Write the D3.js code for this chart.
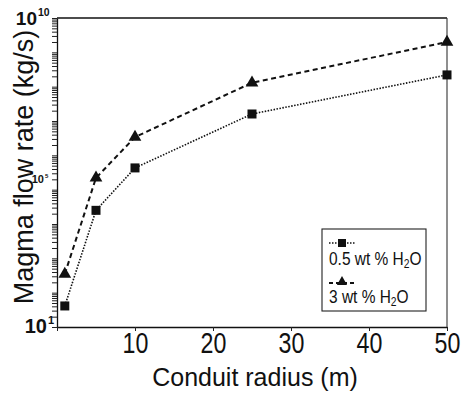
<!DOCTYPE html>
<html><head><meta charset="utf-8">
<script src="https://cdn.jsdelivr.net/npm/d3@7"></script>
<style>
html,body{margin:0;padding:0;background:#fff;}
svg{display:block;}
</style></head>
<body>
<svg id="chart" width="461" height="394"></svg>
<script>
const radius = [1, 5, 10, 25, 50];
const flowLow = [41, 2.5e4, 4.3e5, 1.6e7, 2.2e8];     // 0.5 wt % H2O
const flowHigh = [350, 2.2e5, 3.4e6, 1.3e8, 2.0e9];   // 3 wt % H2O
const xTicks = [0, 10, 20, 30, 40, 50];
const yLabelExp = [1, 5, 10];
const seriesNames = ["0.5 wt % H", "3 wt % H"];

const svg = d3.select("#chart");
const L = 57, R = 447, T = 18, B = 327;
const x = d3.scaleLinear().domain([0, 50]).range([L, R]);
const y = d3.scaleLog().domain([10, 1e10]).range([B, T]);
const sans = "'Liberation Sans', Arial, Helvetica, sans-serif";

// minor/major y ticks
const yTickVals = [];
for (let e = 1; e < 10; e++) for (let m = 1; m < 10; m++) yTickVals.push(m * Math.pow(10, e));
yTickVals.push(1e10);

const yAxis = svg.append("g").attr("transform", `translate(${L},0)`)
  .call(d3.axisLeft(y).tickValues(yTickVals).tickFormat("").tickSize(5).tickSizeOuter(0));
yAxis.selectAll("line").attr("stroke", "#222").attr("stroke-width", 1);
yAxis.select(".domain").attr("stroke", "#111").attr("stroke-width", 1.3);

const xAxis = svg.append("g").attr("transform", `translate(0,${B})`)
  .call(d3.axisBottom(x).tickValues(xTicks).tickFormat(d => d === 0 ? "" : d).tickSize(4).tickSizeOuter(0).tickPadding(1));
xAxis.select(".domain").attr("stroke", "#111").attr("stroke-width", 1.3);
xAxis.selectAll("line").attr("stroke", "#222");
xAxis.selectAll("text").attr("font-family", sans).attr("font-size", 29).attr("fill", "#111")
  .attr("dy", "0.71em").attr("transform", "scale(0.8,1)");

// top & right frame
svg.append("line").attr("x1", L).attr("x2", R).attr("y1", T).attr("y2", T).attr("stroke", "#111").attr("stroke-width", 1.3);
svg.append("line").attr("x1", R).attr("x2", R).attr("y1", T).attr("y2", B).attr("stroke", "#333").attr("stroke-width", 1.1);

// y tick labels with superscripts
const labSize = {1: 20, 5: 11, 10: 19};
const labRight = {1: 47, 5: 44, 10: 37};
const labBase = {1: 333, 5: 183, 10: 25};
yLabelExp.forEach(e => {
  svg.append("text").attr("font-family", sans).attr("font-weight", "bold")
    .attr("fill", "#111").attr("text-anchor", "end")
    .attr("x", labRight[e]).attr("y", labBase[e]).attr("font-size", labSize[e]).text("10");
  svg.append("text").attr("font-family", sans).attr("font-weight", "bold").attr("fill", "#111")
    .attr("x", labRight[e] + 1).attr("y", labBase[e] - labSize[e] * 0.45)
    .attr("font-size", labSize[e] * 0.55).text(e);
});

// axis titles
svg.append("text").attr("x", (L + R) / 2 + 3).attr("y", 386).attr("text-anchor", "middle")
  .attr("font-family", sans).attr("font-size", 25).attr("fill", "#111").text("Conduit radius (m)");
svg.append("text").attr("transform", "translate(33,167) rotate(-90)").attr("text-anchor", "middle")
  .attr("font-family", sans).attr("font-size", 27).attr("fill", "#111").text("Magma flow rate (kg/s)");

// lines
const line = d3.line().x(d => x(d[0])).y(d => y(d[1]));
const lowPts = radius.map((r, i) => [r, flowLow[i]]);
const highPts = radius.map((r, i) => [r, flowHigh[i]]);
svg.append("path").datum(lowPts).attr("d", line).attr("fill", "none").attr("stroke", "#111")
  .attr("stroke-width", 1.6).attr("stroke-dasharray", "1.5,1.5");
svg.append("path").datum(highPts).attr("d", line).attr("fill", "none").attr("stroke", "#111")
  .attr("stroke-width", 2).attr("stroke-dasharray", "5,3.5");

// markers
svg.selectAll(".sq").data(lowPts).enter().append("rect")
  .attr("x", d => x(d[0]) - 4.5).attr("y", d => y(d[1]) - 4.5).attr("width", 9).attr("height", 9).attr("fill", "#111");
const tri = d3.symbol().type(d3.symbolTriangle).size(70);
svg.selectAll(".tr").data(highPts).enter().append("path")
  .attr("d", tri).attr("transform", d => `translate(${x(d[0])},${y(d[1])})`).attr("fill", "#111");

// legend
const lg = svg.append("g");
lg.append("rect").attr("x", 322).attr("y", 229).attr("width", 104).attr("height", 82)
  .attr("fill", "#fff").attr("stroke", "#222").attr("stroke-width", 1.1);
lg.append("line").attr("x1", 329).attr("x2", 356).attr("y1", 243).attr("y2", 243)
  .attr("stroke", "#111").attr("stroke-width", 1.6).attr("stroke-dasharray", "1.5,1.5");
lg.append("rect").attr("x", 338).attr("y", 239).attr("width", 8).attr("height", 8).attr("fill", "#111");
lg.append("line").attr("x1", 329).attr("x2", 356).attr("y1", 283).attr("y2", 283)
  .attr("stroke", "#111").attr("stroke-width", 2).attr("stroke-dasharray", "4,3");
lg.append("path").attr("d", d3.symbol().type(d3.symbolTriangle).size(45))
  .attr("transform", "translate(342,282)").attr("fill", "#111");
const legY = [265, 303];
seriesNames.forEach((n, i) => {
  const t = lg.append("text").attr("transform", `translate(329,${legY[i]}) scale(0.86,1)`)
    .attr("font-family", sans).attr("font-size", 18).attr("fill", "#111");
  t.append("tspan").text(n);
  t.append("tspan").attr("font-size", 12).attr("dy", 3).text("2");
  t.append("tspan").attr("dy", -3).text("O");
});
</script>
</body></html>
